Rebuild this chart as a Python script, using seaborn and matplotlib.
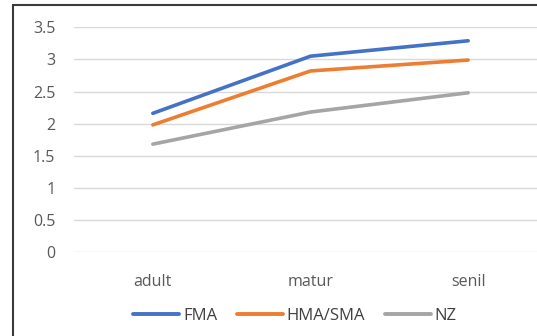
import matplotlib
matplotlib.use("Agg")
import matplotlib.pyplot as plt
import seaborn as sns
import pandas as pd
from matplotlib.patches import Rectangle

categories = ["adult", "matur", "senil"]
fma = [2.16, 3.05, 3.29]
hma_sma = [1.98, 2.82, 2.99]
nz = [1.68, 2.18, 2.48]
series_names = ["FMA", "HMA/SMA", "NZ"]
y_ticks = [0, 0.5, 1, 1.5, 2, 2.5, 3, 3.5]
y_tick_labels = ["0", "0.5", "1", "1.5", "2", "2.5", "3", "3.5"]

df = pd.DataFrame({
    "age": categories * 3,
    "value": fma + hma_sma + nz,
    "series": [s for s in series_names for _ in categories],
})

sns.set_style("white")
plt.rcParams["font.family"] = ["Open Sans", "DejaVu Sans"]

fig = plt.figure(figsize=(5.37, 3.36), dpi=100)
ax = fig.add_axes([74 / 537, 1 - 252 / 336, (547 - 74) / 537, (252 - 27.3) / 336])

palette = {"FMA": "#4472C4", "HMA/SMA": "#ED7D31", "NZ": "#A5A5A5"}
sns.lineplot(data=df, x="age", y="value", hue="series", palette=palette,
             linewidth=2.6, ax=ax, legend=False, sort=False)

ax.set_xlim(-0.5, 2.5)
ax.set_ylim(0, 3.5)
ax.set_yticks(y_ticks)
ax.set_yticklabels(y_tick_labels)
ax.grid(axis="y", color="#D9D9D9", linewidth=1)
ax.set_axisbelow(True)
for sp in ax.spines.values():
    sp.set_visible(False)
ax.set_xlabel("")
ax.set_ylabel("")
ax.tick_params(axis="both", length=0, colors="#595959", labelsize=11.5)
ax.tick_params(axis="y", pad=13.5)
ax.tick_params(axis="x", pad=16)

# legend below the plot
handles = [plt.Line2D([], [], color=palette[s], linewidth=2.8,
                      solid_capstyle="round") for s in series_names]
fig.legend(handles, series_names, loc="center", bbox_to_anchor=(295 / 537, 1 - 316 / 336),
           ncol=3, frameon=False, handlelength=2.75, handletextpad=0.22,
           columnspacing=1.2, prop={"size": 12}, labelcolor="#404040")

# chart frame
fig.patches.append(Rectangle((13 / 537, -0.1), 1.2, 1 - 5 / 336 + 0.1,
                             transform=fig.transFigure, fill=False,
                             edgecolor="#3a3a3a", linewidth=1.5))

fig.savefig("out.png", dpi=100)
